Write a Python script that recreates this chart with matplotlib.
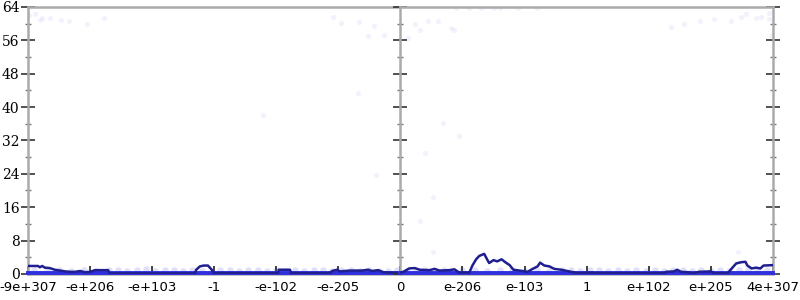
import matplotlib.pyplot as plt
import numpy as np

# tick labels for the two halves (negative / positive)
left_labels = ['-9e+307', '-e+206', '-e+103', '-1', '-e-102', '-e-205']
right_labels = ['0', 'e-206', 'e-103', '1', 'e+102', 'e+205', '4e+307']

# dark line, negative half (position in tick units, value)
neg_x = [0.00, 0.16, 0.19, 0.23, 0.27, 0.35, 0.43, 0.52, 0.60, 0.68, 0.76, 0.84, 0.92,
         1.00, 1.08, 1.16, 1.29, 1.32, 2.69, 2.71, 2.77, 2.83, 2.90, 2.96, 3.00, 4.03,
         4.04, 4.22, 4.24, 4.86, 4.90, 4.98, 5.02, 5.19, 5.38, 5.48, 5.54, 5.64, 5.73,
         5.86, 6.00]
neg_y = [1.9, 1.9, 1.6, 1.9, 1.5, 1.4, 1.0, 0.8, 0.6, 0.5, 0.5, 0.7, 0.4,
         0.5, 0.9, 0.9, 0.9, 0.1, 0.1, 1.0, 1.8, 2.0, 2.0, 1.0, 0.2, 0.2,
         1.0, 1.0, 0.2, 0.2, 0.7, 1.0, 0.6, 0.8, 0.8, 1.0, 0.7, 0.9, 0.4,
         0.3, 0.2]

# dark line, positive half
pos_x = [0.00, 0.06, 0.14, 0.23, 0.31, 0.47, 0.55, 0.63, 0.79, 0.87, 0.95, 1.11, 1.16,
         1.22, 1.27, 1.35, 1.40, 1.43, 1.50, 1.56, 1.63, 1.69, 1.76, 1.82, 1.92, 2.05,
         2.13, 2.21, 2.25, 2.32, 2.40, 2.48, 2.59, 2.72, 2.85, 3.04, 3.20, 4.25, 4.28,
         4.41, 4.46, 4.52, 4.65, 4.70, 4.81, 5.00, 5.07, 5.20, 5.27, 5.35, 5.41, 5.49,
         5.56, 5.59, 5.66, 5.73, 5.80, 5.85, 6.00]
pos_y = [0.3, 0.6, 1.3, 1.4, 1.0, 0.9, 1.2, 0.8, 0.9, 1.1, 0.3, 0.3, 2.0,
         3.5, 4.3, 4.8, 3.4, 2.6, 3.3, 3.0, 3.5, 2.8, 2.1, 1.0, 0.8, 0.5,
         1.2, 1.8, 2.7, 2.0, 1.8, 1.2, 1.0, 0.6, 0.2, 0.3, 0.2, 0.2, 0.5,
         0.6, 1.0, 0.5, 0.4, 0.1, 0.5, 0.6, 0.1, 0.2, 0.1, 1.5, 2.5, 2.8,
         2.9, 2.0, 1.3, 1.5, 1.3, 2.0, 2.1]

# faint sample points, away from zero
neg_pts_x = [0.02, 0.11, 0.19, 0.23, 0.35, 0.53, 0.66, 0.95, 1.22, 4.91, 5.04, 5.33,
             5.57, 5.48, 5.73, 3.78, 5.60, 5.31]
neg_pts_y = [62.1, 62.4, 60.9, 61.4, 61.4, 60.9, 60.7, 60.0, 61.4, 61.6, 60.2, 60.4,
             59.5, 57.0, 57.3, 38.1, 23.7, 43.4]
pos_pts_x = [0.13, 0.23, 0.32, 0.45, 0.61, 0.82, 0.87, 0.68, 0.95, 0.39, 0.52, 0.31,
             4.36, 4.57, 4.83, 5.06, 5.33, 5.48, 5.57, 5.73, 5.81, 5.94, 5.94, 5.97,
             5.44, 0.52, 0.9, 1.1, 1.3, 1.5, 1.6, 1.9, 2.2]
pos_pts_y = [56.6, 60.0, 58.5, 60.7, 60.7, 59.0, 58.5, 36.2, 33.1, 29.0, 18.5, 12.7,
             59.2, 60.0, 60.7, 61.2, 60.7, 61.6, 62.4, 61.4, 61.6, 62.6, 61.2, 57.3,
             5.3, 5.3, 63.8, 63.8, 63.8, 63.8, 63.8, 63.8, 63.8]

# faint sample points, band just above zero
neg_band_x = [0.1, 0.3, 0.5, 0.7, 0.9, 1.1, 1.3, 1.45, 1.6, 1.75, 1.9, 2.05, 2.2, 2.35,
              2.5, 2.65, 2.8, 3.1, 3.25, 3.4, 3.55, 3.7, 3.85, 4.0, 4.15, 4.3, 4.45,
              4.6, 4.75, 4.9, 5.05, 5.2, 5.35, 5.5, 5.65, 5.8, 5.95]
neg_band_y = [0.9, 0.8, 0.9, 0.7, 1.0, 0.8, 0.9, 1.0, 0.8, 0.9, 1.1, 0.8, 0.9, 1.0,
              0.8, 0.9, 0.7, 0.9, 1.0, 0.8, 0.9, 1.0, 0.8, 0.9, 0.7, 0.9, 0.8,
              1.0, 0.9, 0.8, 0.9, 1.0, 0.8, 0.9, 0.7, 0.8, 0.9]
pos_band_x = [0.1, 0.25, 0.4, 0.55, 0.7, 0.85, 1.0, 1.2, 1.4, 1.6, 1.8, 2.0, 2.2, 2.4,
              2.6, 2.75, 2.9, 3.05, 3.2, 3.35, 3.5, 3.65, 3.8, 3.95, 4.1, 4.25, 4.4,
              4.55, 4.7, 4.85, 5.0, 5.15, 5.3, 5.45, 5.6, 5.75, 5.9]
pos_band_y = [0.8, 0.9, 1.0, 0.8, 0.9, 0.7, 0.9, 1.0, 0.8, 0.9, 1.0, 0.8, 0.9, 0.7,
              0.9, 1.0, 0.8, 0.9, 1.0, 0.8, 0.9, 0.7, 1.0, 0.8, 0.9, 0.8, 0.9,
              1.0, 0.8, 0.9, 0.7, 0.9, 0.8, 1.0, 0.9, 0.8, 0.9]

dark = '#1f1f8f'
bright = '#2f2fdf'
faint = '#9a9aee'
axis_gray = '#aaaaaa'

fig, (ax0, ax1) = plt.subplots(1, 2, figsize=(8, 3), dpi=100, sharey=True)
fig.subplots_adjust(left=0.035, right=0.966, top=0.977, bottom=0.087, wspace=0)

panels = [(ax0, neg_x, neg_y, neg_pts_x, neg_pts_y, neg_band_x, neg_band_y),
          (ax1, pos_x, pos_y, pos_pts_x, pos_pts_y, pos_band_x, pos_band_y)]
for ax, px, py, sx, sy, bx, by in panels:
    ax.scatter(sx, sy, s=14, color=faint, alpha=0.12, linewidths=0, zorder=1)
    ax.scatter(bx, by, s=22, color=faint, alpha=0.3, linewidths=0, zorder=1)
    ax.plot([0, 6], [0.2, 0.2], color=bright, lw=2.8, zorder=3, clip_on=False)
    ax.plot(px, py, color=dark, lw=1.8, zorder=4)
    ax.set_xlim(0, 6)
    ax.set_ylim(0, 64)
    for side in ['top', 'bottom', 'left', 'right']:
        ax.spines[side].set_color(axis_gray)
        ax.spines[side].set_linewidth(1.8)
    ax.set_yticks(np.arange(0, 65, 8))
    ax.set_yticks(np.arange(4, 64, 8), minor=True)
    ax.tick_params(axis='y', which='major', direction='inout', length=10, width=1.2,
                   color='#333333')
    ax.tick_params(axis='y', which='minor', direction='inout', length=5, width=1,
                   color='#777777')
    ax.tick_params(axis='x', direction='in', length=6, width=1.2, color='#222222',
                   labelsize=9.5, pad=5)

ax0.spines['right'].set_visible(False)
ax0.set_xticks(range(len(left_labels)))
ax0.set_xticklabels(left_labels)
ax0.tick_params(axis='y', which='both', left=True, right=False, labelsize=10, pad=1)
for lab in ax0.get_yticklabels():
    lab.set_family('DejaVu Serif')

ax1.set_xticks(range(len(right_labels)))
ax1.set_xticklabels(right_labels)
ax1.tick_params(axis='y', which='both', left=True, right=True,
                labelleft=False, labelright=False)

plt.savefig('out.png', dpi=100)
